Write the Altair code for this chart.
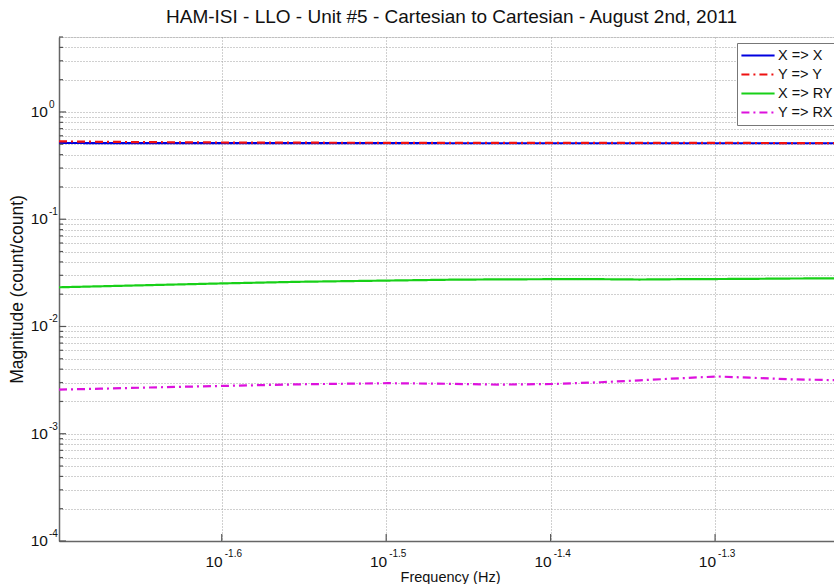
import altair as alt
import pandas as pd

# Measured transfer-function magnitudes (count/count) vs frequency (Hz)
freq = [0.0200, 0.0212, 0.0227, 0.0251, 0.0280, 0.0317, 0.0346, 0.0371,
        0.0399, 0.0427, 0.0451, 0.0477, 0.0503, 0.0526, 0.0557, 0.0592]
mag_x_x = [0.514, 0.513, 0.513, 0.512, 0.512, 0.512, 0.511, 0.511,
           0.511, 0.511, 0.511, 0.511, 0.511, 0.511, 0.511, 0.511]
mag_y_y = [0.532, 0.527, 0.523, 0.519, 0.517, 0.516, 0.515, 0.515,
           0.514, 0.514, 0.514, 0.514, 0.514, 0.514, 0.513, 0.513]
mag_x_ry = [0.0232, 0.0237, 0.0243, 0.0252, 0.0261, 0.0268, 0.0273, 0.0275,
            0.0276, 0.0276, 0.0274, 0.0276, 0.0277, 0.0278, 0.0280, 0.0281]
mag_y_rx = [0.00258, 0.00263, 0.00270, 0.00279, 0.00289, 0.00296, 0.00292, 0.00287,
            0.00291, 0.00302, 0.00315, 0.00329, 0.00342, 0.00333, 0.00322, 0.00316]

series_names = ["X => X", "Y => Y", "X => RY", "Y => RX"]
series_colors = ["#0000e0", "#ee1111", "#18d018", "#dd11dd"]
series_dashes = [[1, 0], [8, 4, 2, 4], [1, 0], [8, 4, 2, 4]]

# Axis tick labels (base 10 with exponent)
x_tick_exps = ["-1.6", "-1.5", "-1.4", "-1.3"]
y_tick_exps = ["-4", "-3", "-2", "-1", "0"]

X_DOMAIN = [0.02, 0.0592]
Y_DOMAIN = [1e-4, 5]
W, H = 775, 504
FONT = "Liberation Sans"
TXT = "#111111"

rows = []
for name, vals in zip(series_names, [mag_x_x, mag_y_y, mag_x_ry, mag_y_rx]):
    for f, v in zip(freq, vals):
        rows.append({"freq": f, "mag": v, "series": name})
df = pd.DataFrame(rows)

x_major = [10 ** float(e) for e in x_tick_exps]
y_major = [10 ** float(e) for e in y_tick_exps]
y_minor = [k * 10 ** d for d in range(-4, 1) for k in range(2, 10) if k * 10 ** d <= 5.0001]
y_grid = sorted(y_major + y_minor)

x_scale = alt.Scale(type="log", domain=X_DOMAIN, nice=False)
y_scale = alt.Scale(type="log", domain=Y_DOMAIN, nice=False)

x_axis = alt.Axis(values=x_major, labels=False, ticks=False, grid=True,
                  gridColor="#a0a0a0", gridDash=[1, 2], gridWidth=1,
                  domainColor="#666666", domainWidth=1.5,
                  title="Frequency (Hz)", titleFont=FONT, titleFontSize=14.5,
                  titleFontWeight="normal", titleColor=TXT,
                  titleX=391, titleY=36, titleBaseline="middle", titleAlign="center")
y_axis = alt.Axis(values=y_grid, labels=False, ticks=False, grid=True,
                  gridColor="#a0a0a0", gridDash=[1, 2], gridWidth=1,
                  domainColor="#666666", domainWidth=1.5,
                  title="Magnitude (count/count)", titleFont=FONT, titleFontSize=17.5,
                  titleFontWeight="normal", titleColor=TXT,
                  titleX=-42, titleY=252, titleAngle=-90, titleBaseline="middle",
                  titleAlign="center")

legend = alt.Legend(orient="none", legendX=678, legendY=6, title=None,
                    symbolType="stroke", symbolSize=1100, symbolStrokeWidth=2,
                    labelFont=FONT, labelFontSize=14.5, labelColor=TXT,
                    labelOffset=2, fillColor="white", strokeColor="#777777",
                    padding=3, rowPadding=0, clipHeight=19)

lines = alt.Chart(df).mark_line(strokeWidth=2.2).encode(
    x=alt.X("freq:Q", scale=x_scale, axis=x_axis),
    y=alt.Y("mag:Q", scale=y_scale, axis=y_axis),
    color=alt.Color("series:N", sort=series_names,
                    scale=alt.Scale(domain=series_names, range=series_colors),
                    legend=legend),
    strokeDash=alt.StrokeDash("series:N", sort=series_names,
                              scale=alt.Scale(domain=series_names, range=series_dashes),
                              legend=legend),
    detail="series:N",
)

# Inward tick marks along the left and bottom axes
ymaj_df = pd.DataFrame({"v": y_major})
ymin_df = pd.DataFrame({"v": y_minor})
xmaj_df = pd.DataFrame({"v": x_major})

y_major_ticks = alt.Chart(ymaj_df).mark_rule(color="#555555", strokeWidth=1.2).encode(
    y=alt.Y("v:Q", scale=y_scale), x=alt.value(0), x2=alt.value(7))
y_minor_ticks = alt.Chart(ymin_df).mark_rule(color="#555555", strokeWidth=1.2).encode(
    y=alt.Y("v:Q", scale=y_scale), x=alt.value(0), x2=alt.value(4))
x_major_ticks = alt.Chart(xmaj_df).mark_rule(color="#555555", strokeWidth=1.2).encode(
    x=alt.X("v:Q", scale=x_scale), y=alt.value(H), y2=alt.value(H - 7))

# Tick labels drawn as "10" with a raised exponent
ylab_df = pd.DataFrame({"v": y_major, "base": ["10"] * len(y_major), "exp": y_tick_exps})
xlab_df = pd.DataFrame({"v": x_major, "base": ["10"] * len(x_major), "exp": x_tick_exps})

y_base = alt.Chart(ylab_df).mark_text(font=FONT, fontSize=15.5, align="right",
                                      baseline="middle", color=TXT).encode(
    y=alt.Y("v:Q", scale=y_scale), x=alt.value(-11), text="base:N")
y_exp = alt.Chart(ylab_df).mark_text(font=FONT, fontSize=10, align="left",
                                     baseline="middle", dy=-7, color=TXT).encode(
    y=alt.Y("v:Q", scale=y_scale), x=alt.value(-10), text="exp:N")
x_base = alt.Chart(xlab_df).mark_text(font=FONT, fontSize=15.5, align="right",
                                      baseline="middle", dx=1, color=TXT).encode(
    x=alt.X("v:Q", scale=x_scale), y=alt.value(H + 21), text="base:N")
x_exp = alt.Chart(xlab_df).mark_text(font=FONT, fontSize=10, align="left",
                                     baseline="middle", dx=3, color=TXT).encode(
    x=alt.X("v:Q", scale=x_scale), y=alt.value(H + 13), text="exp:N")

chart = alt.layer(
    lines, y_major_ticks, y_minor_ticks, x_major_ticks, y_base, y_exp, x_base, x_exp
).properties(
    width=W, height=H,
    title=alt.TitleParams("HAM-ISI - LLO - Unit #5 - Cartesian to Cartesian - August 2nd, 2011",
                          font=FONT, fontSize=19, fontWeight="normal", color=TXT,
                          anchor="middle", offset=9, dx=5),
    autosize=alt.AutoSizeParams(type="none"),
    padding={"left": 59, "top": 37, "right": 0, "bottom": 43},
).configure_view(stroke=None).configure(background="white")

chart.save("out.html", embed_options={"renderer": "svg", "actions": False})
